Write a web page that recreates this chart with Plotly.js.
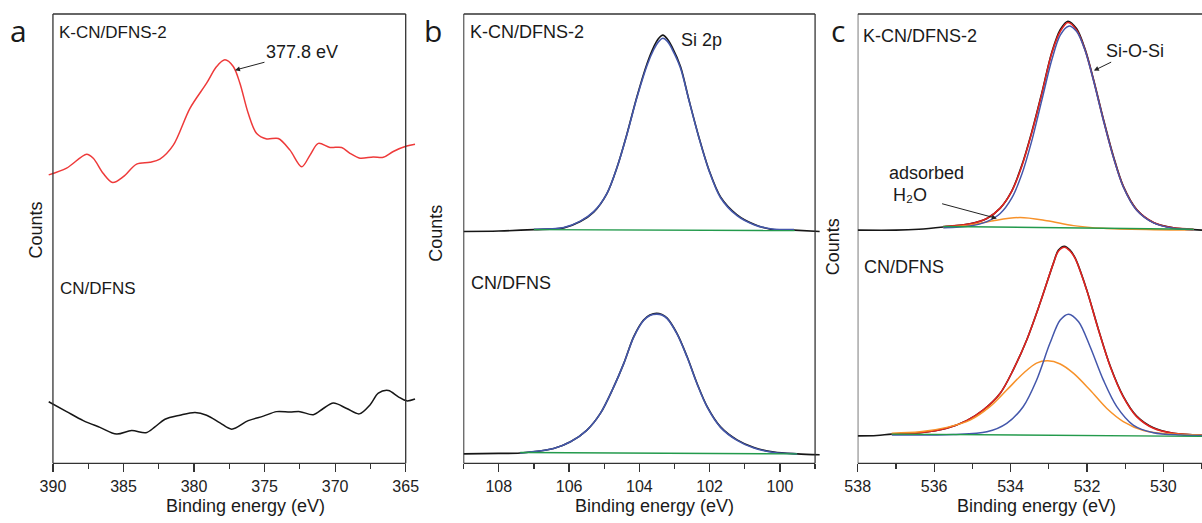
<!DOCTYPE html>
<html><head><meta charset="utf-8">
<script src="https://cdn.plot.ly/plotly-3.0.1.min.js"></script>
<style>html,body{margin:0;padding:0;background:#fff}#chart{width:1202px;height:523px}</style>
</head><body><div id="chart"></div>
<script>
// ---------- Panel a : K 2p region ----------
const aRedX=[390.3,389.03,387.61,387.14,386.43,385.77,385.01,384.07,383.12,382.42,381.47,380.29,379.11,378.40,377.81,377.22,376.75,376.16,375.56,374.85,374.03,373.20,372.37,371.78,371.19,370.37,369.54,368.95,368.24,367.30,366.59,365.88,364.93,364.34];
const aRedY=[64.2,65.7,68.8,67.9,64.5,62.5,63.8,66.6,67.0,67.7,70.8,79.0,84.6,88.3,89.8,88.3,84.6,77.9,73.4,72.2,72.3,69.7,66.0,68.6,71.2,70.3,70.3,69.0,67.9,68.2,68.1,69.4,70.6,71.0];
const aBlackX=[390.3,389.03,387.85,386.67,385.49,384.42,383.41,382.77,382.06,381.00,379.93,379.11,378.16,377.33,376.16,375.09,374.15,373.20,372.49,371.55,370.84,370.13,369.18,368.29,367.53,366.94,366.23,365.52,364.93,364.34];
const aBlackY=[13.7,11.5,9.5,8.0,6.5,7.3,6.8,8.1,9.8,10.7,11.3,10.7,9.0,7.6,9.5,10.5,11.5,11.4,11.5,10.8,12.2,13.4,12.2,11.0,13.0,15.6,16.2,14.8,13.9,14.3];

// ---------- Panel b : Si 2p ----------
const bTopDataX=[109.0,108.0,107.0,106.15,105.68,105.30,104.92,104.63,104.35,104.07,103.78,103.59,103.46,103.33,103.20,103.07,102.83,102.59,102.31,102.02,101.69,101.22,100.74,100.27,99.60,98.87];
const bTopDataY=[51.6,51.7,52.0,52.4,53.8,55.9,60.1,66.0,73.4,81.6,89.0,92.7,94.5,95.3,94.4,92.7,88.3,80.9,72.7,65.3,59.3,55.3,53.2,52.1,51.9,51.6];
const bTopFitX=[107.0,106.15,105.68,105.30,104.92,104.63,104.35,104.07,103.78,103.59,103.46,103.33,103.20,103.07,102.83,102.59,102.31,102.02,101.69,101.22,100.74,100.27,99.60];
const bTopFitY=[52.1,52.5,53.9,56.0,60.1,66.0,73.3,81.4,88.6,92.1,93.8,94.6,93.9,92.2,88.0,80.8,72.6,65.2,59.1,55.1,53.1,52.2,52.0];
const bTopBgX=[107.0,99.58];
const bTopBgY=[52.0,51.8];
const bBotDataX=[109.0,108.0,107.39,106.44,105.96,105.49,105.11,104.73,104.44,104.16,103.88,103.70,103.51,103.36,103.21,102.93,102.64,102.36,102.07,101.69,101.22,100.74,100.17,99.51,98.87];
const bBotDataY=[2.1,2.2,2.3,3.3,4.8,7.4,11.1,17.0,22.3,28.2,31.9,33.0,33.4,33.1,32.3,28.9,23.7,17.8,12.6,8.1,5.2,3.5,2.5,2.1,1.9];
const bBotFitX=[107.39,106.44,105.96,105.49,105.11,104.73,104.44,104.16,103.88,103.70,103.51,103.36,103.21,102.93,102.64,102.36,102.07,101.69,101.22,100.74,100.17,99.51];
const bBotFitY=[2.3,3.3,4.8,7.4,11.1,17.0,22.3,28.1,31.8,32.9,33.2,33.0,32.2,28.8,23.6,17.7,12.5,8.0,5.1,3.4,2.4,2.1];
const bBotBgX=[107.39,99.51];
const bBotBgY=[2.4,2.1];

// ---------- Panel c : O 1s ----------
const cTopDataX=[538.0,537.0,536.4,535.76,535.06,534.62,534.27,533.97,533.71,533.45,533.18,532.92,532.70,532.50,532.27,532.05,531.83,531.57,531.31,531.05,530.70,530.26,529.74,529.21,528.99];
const cTopDataY=[51.9,51.9,52.1,52.6,53.3,54.5,56.8,60.6,66.2,73.6,82.5,91.5,96.5,98.4,96.7,92.2,85.5,76.6,68.4,61.7,56.5,53.6,52.4,52.0,51.9];
const cTopSumX=[535.76,535.06,534.62,534.27,533.97,533.71,533.45,533.18,532.92,532.70,532.50,532.27,532.05,531.83,531.57,531.31,531.05,530.70,530.26,529.74,529.21];
const cTopSumY=[52.7,53.3,54.5,56.8,60.5,66.0,73.4,82.3,91.3,96.1,98.1,96.4,92.0,85.3,76.4,68.2,61.6,56.4,53.6,52.4,52.1];
const cTopSiOX=[535.76,535.06,534.62,534.27,533.97,533.71,533.45,533.18,532.92,532.70,532.48,532.27,532.05,531.83,531.57,531.31,531.05,530.70,530.26,529.74,529.21];
const cTopSiOY=[52.4,52.8,53.8,55.6,59.0,64.2,71.6,80.9,89.8,95.3,97.3,96.1,91.9,85.2,76.3,68.1,61.5,56.3,53.5,52.3,52.0];
const cTopH2OX=[535.76,535.06,534.45,533.75,533.05,532.35,531.57,530.26,529.21];
const cTopH2OY=[52.5,53.0,54.0,54.7,54.0,52.9,52.3,52.0,51.9];
const cTopBgX=[535.76,529.21];
const cTopBgY=[52.7,52.1];

const cBotDataX=[538.0,537.5,537.11,536.37,535.67,535.15,534.71,534.27,533.93,533.58,533.23,532.88,532.75,532.59,532.45,532.31,532.01,531.70,531.39,531.05,530.70,530.26,529.74,528.99];
const cBotDataY=[6.1,6.2,6.5,6.8,7.8,9.5,11.9,15.6,20.8,27.4,35.6,44.5,47.4,48.3,47.5,45.7,38.7,29.8,21.6,14.9,10.5,7.9,6.7,6.3];
const cBotSumX=[537.11,536.37,535.67,535.15,534.71,534.27,533.93,533.58,533.23,532.88,532.75,532.59,532.45,532.31,532.01,531.70,531.39,531.05,530.70,530.26,529.74,528.99];
const cBotSumY=[6.5,6.8,7.8,9.5,11.9,15.6,20.8,27.4,35.6,44.5,47.2,48.1,47.3,45.6,38.6,29.7,21.5,14.8,10.4,7.8,6.7,6.3];
const cBotSiOX=[537.11,535.50,534.62,534.10,533.67,533.32,532.97,532.70,532.48,532.22,531.92,531.57,531.22,530.79,530.26,529.56,528.99];
const cBotSiOY=[6.3,6.4,7.0,8.9,12.6,18.5,26.7,31.9,33.2,31.5,26.0,18.5,12.6,8.5,6.8,6.3,6.2];
const cBotH2OX=[537.11,536.37,535.67,535.06,534.54,534.10,533.67,533.32,533.03,532.70,532.35,531.92,531.48,531.05,530.52,529.82,528.99];
const cBotH2OY=[6.7,7.0,8.0,9.6,12.6,16.3,20.0,22.3,22.8,22.1,20.0,16.3,12.2,9.3,7.3,6.5,6.3];
const cBotBgX=[537.11,528.99];
const cBotBgY=[6.5,6.0];

// ---------- tick settings ----------
const panelRanges={a:[390.35,364.27],b:[109.01,98.86],c:[538.0,528.99]};
const majorSteps={a:5,b:2,c:2};
const minorSteps={a:2.5,b:1,c:1};

// ---------- build ----------
const W=1202,H=523;
const C={black:'#161616',red:'#ee3a3a',red2:'#e2231f',blue:'#4457ab',orange:'#f7922a',green:'#239a4c'};
function ln(x,y,ax,color,w){return {x:x,y:y,xaxis:ax[0],yaxis:ax[1],type:'scatter',mode:'lines',hoverinfo:'skip',
  line:{color:color,width:w||1.5,shape:'spline',smoothing:0.9}};}
const A=['x','y'],B=['x2','y2'],Cc=['x3','y3'];
const traces=[
  ln(aRedX,aRedY,A,C.red,1.5), ln(aBlackX,aBlackY,A,C.black,1.5),
  ln(bTopDataX,bTopDataY,B,C.black,1.6), ln(bTopFitX,bTopFitY,B,C.blue,1.6), ln(bTopBgX,bTopBgY,B,C.green,1.4),
  ln(bBotDataX,bBotDataY,B,C.black,1.6), ln(bBotFitX,bBotFitY,B,C.blue,1.6), ln(bBotBgX,bBotBgY,B,C.green,1.4),
  ln(cTopDataX,cTopDataY,Cc,C.black,1.6), ln(cTopSumX,cTopSumY,Cc,C.red2,1.6), ln(cTopH2OX,cTopH2OY,Cc,C.orange,1.5),
  ln(cTopSiOX,cTopSiOY,Cc,C.blue,1.5), ln(cTopBgX,cTopBgY,Cc,C.green,1.4),
  ln(cBotDataX,cBotDataY,Cc,C.black,1.6), ln(cBotSumX,cBotSumY,Cc,C.red2,1.6), ln(cBotH2OX,cBotH2OY,Cc,C.orange,1.5),
  ln(cBotSiOX,cBotSiOY,Cc,C.blue,1.5), ln(cBotBgX,cBotBgY,Cc,C.green,1.4)
];

const yDom=[(H-463.3)/H,(H-14)/H];
const tickFont={family:'Liberation Sans, Arial, sans-serif',size:16,color:'#222'};
function xa(k,dom,anchor){return {domain:[dom[0]/W,dom[1]/W],range:panelRanges[k],autorange:false,anchor:anchor,
  showline:false,showgrid:false,zeroline:false,ticks:'outside',ticklen:8,tickwidth:1.2,tickcolor:'#333',
  dtick:majorSteps[k],tick0:0,tickfont:tickFont,
  minor:{ticks:'outside',ticklen:4.5,tickwidth:1.2,tickcolor:'#333',dtick:minorSteps[k],tick0:0,showgrid:false}};}
function ya(anchor){return {domain:yDom,range:[0,100],autorange:false,anchor:anchor,showline:false,showgrid:false,
  zeroline:false,showticklabels:false,ticks:''};}

const fr={color:'#333',width:1.3};
function frame(xr,x0,x1,right){const s=[
  {type:'line',xref:xr,yref:'paper',x0:x0,x1:x1,y0:yDom[0],y1:yDom[0],line:fr,layer:'above'},
  {type:'line',xref:xr,yref:'paper',x0:x0,x1:x1,y0:yDom[1],y1:yDom[1],line:fr,layer:'above'},
  {type:'line',xref:xr,yref:'paper',x0:x0,x1:x0,y0:yDom[0],y1:yDom[1],line:fr,layer:'above'}];
  if(right) s.push({type:'line',xref:xr,yref:'paper',x0:x1,x1:x1,y0:yDom[0],y1:yDom[1],line:fr,layer:'above'});
  return s;}
const shapes=[].concat(frame('x',390,365,true),frame('x2',109,99,true),frame('x3',538,528.99,false));

const f17={family:'Liberation Sans, Arial, sans-serif',size:17,color:'#1a1a1a'};
const f18={family:'Liberation Sans, Arial, sans-serif',size:18,color:'#1a1a1a'};
const fLet={family:'Open Sans, sans-serif',size:30,color:'#1a1a1a'};
function txt(t,x,y,font,xanchor,extra){return Object.assign({text:t,x:x/W,y:1-y/H,xref:'paper',yref:'paper',
  xanchor:xanchor||'center',yanchor:'middle',showarrow:false,font:font},extra||{});}
const annotations=[
  txt('a',18.3,30,fLet), txt('b',433.3,30,fLet), txt('c',838.3,30,fLet),
  txt('K-CN/DFNS-2',57,32,f17,'left'), txt('K-CN/DFNS-2',468.3,32.3,f18,'left'), txt('K-CN/DFNS-2',860.7,36,f18,'left'),
  txt('CN/DFNS',58.3,288.3,f17,'left'), txt('CN/DFNS',469,283.3,f18,'left'), txt('CN/DFNS',861.7,266.7,f18,'left'),
  txt('Si 2p',679,40,f18,'left'),
  txt('adsorbed',887.3,173.3,f18,'left'),
  txt('Counts',35,230.5,f18,'center',{textangle:-90}),
  txt('Counts',435.8,233,f18,'center',{textangle:-90}),
  txt('Counts',832.5,246.7,f18,'center',{textangle:-90}),
  txt('Binding energy (eV)',245,506,f18), txt('Binding energy (eV)',654.2,506,f18), txt('Binding energy (eV)',1036.7,506,f18),
  {text:'377.8 eV',x:377.10,y:87.5,xref:'x',yref:'y',showarrow:true,ax:67,ay:-18,arrowhead:2,arrowsize:1,arrowwidth:1,arrowcolor:'#222',font:f18},
  {text:'Si-O-Si',x:531.82,y:87.4,xref:'x3',yref:'y3',showarrow:true,ax:40.7,ay:-20,arrowhead:2,arrowsize:1,arrowwidth:1,arrowcolor:'#222',font:f18},
  {text:'H\u2082O',x:534.36,y:54.5,xref:'x3',yref:'y3',showarrow:true,ax:-86.7,ay:-23.3,startstandoff:14,arrowhead:2,arrowsize:1,arrowwidth:1,arrowcolor:'#222',font:f18}
];

const layout={width:W,height:H,margin:{l:0,r:0,t:0,b:0},paper_bgcolor:'#fff',plot_bgcolor:'rgba(0,0,0,0)',showlegend:false,
  xaxis:xa('a',[48,416],'y'), xaxis2:xa('b',[463.3,820],'y2'), xaxis3:xa('c',[857.7,1202],'y3'),
  yaxis:ya('x'), yaxis2:ya('x2'), yaxis3:ya('x3'),
  shapes:shapes, annotations:annotations};
Plotly.newPlot('chart',traces,layout,{displayModeBar:false,staticPlot:true});
</script></body></html>
